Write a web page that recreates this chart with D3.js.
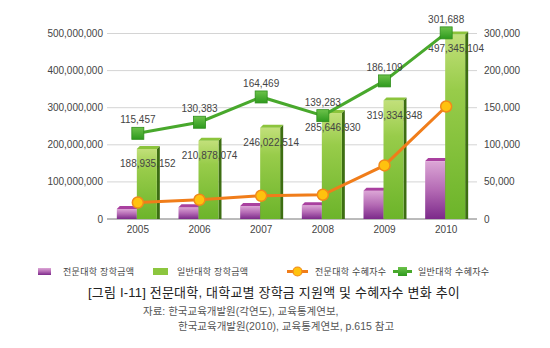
<!DOCTYPE html>
<html>
<head>
<meta charset="utf-8">
<script src="https://cdn.jsdelivr.net/npm/d3@7"></script>
<style>
  body { margin: 0; background: #fff; }
  svg { display: block; font-family: "Liberation Sans", "Noto Sans CJK KR", sans-serif; }
</style>
</head>
<body>
<svg width="550" height="348"></svg>
<script>
const years = ["2005", "2006", "2007", "2008", "2009", "2010"];
const juniorAmount = [27000000, 32000000, 35000000, 37000000, 76000000, 156000000];
const univAmount = [188935152, 210878074, 246022514, 285646930, 319334348, 497345104];
const juniorCount = [22200, 25900, 31300, 32700, 72200, 151600];
const univCount = [115457, 130383, 164469, 139283, 186109, 301688];
const leftTicks = [0, 100000000, 200000000, 300000000, 400000000, 500000000];
const rightTicks = [0, 50000, 100000, 150000, 200000, 300000];
const legendLabels = ["전문대학 장학금액", "일반대학 장학금액", "전문대학 수혜자수", "일반대학 수혜자수"];

const svg = d3.select("svg");
const fmt = d3.format(",");

const x = d3.scaleBand().domain(years).range([107, 477]);
const yL = d3.scaleLinear().domain([0, 500000000]).range([219, 33.5]);
// right axis in the source is piecewise: 0-200,000 evenly, then 200,000-300,000 on the last grid step
const yR = d3.scaleLinear().domain([0, 200000, 300000]).range([219, 70.6, 33.5]);

const defs = svg.append("defs");
function grad(id, stops) {
  const g = defs.append("linearGradient").attr("id", id)
    .attr("x1", 0).attr("y1", 0).attr("x2", 0).attr("y2", 1);
  stops.forEach(s => g.append("stop").attr("offset", s[0]).attr("stop-color", s[1]));
}
grad("gPurple", [[0, "#dca6d6"], [0.5, "#b46ab4"], [1, "#7c2a8a"]]);
grad("gGreen", [[0, "#c2e07a"], [0.3, "#98cc4a"], [1, "#6cb42a"]]);
grad("gSquare", [[0, "#6cc24a"], [1, "#2e9a1e"]]);

// grid
svg.append("g").selectAll("line").data(leftTicks).join("line")
  .attr("x1", 107).attr("x2", 477)
  .attr("y1", d => yL(d)).attr("y2", d => yL(d))
  .attr("stroke", d => d === 0 ? "#777" : "#d4d4d4")
  .attr("stroke-width", 1);

// axes labels
svg.append("g").selectAll("text").data(leftTicks).join("text")
  .attr("x", 103).attr("y", d => yL(d)).attr("dy", "0.35em")
  .attr("text-anchor", "end").attr("font-size", 10).attr("fill", "#444")
  .text(d => fmt(d));
svg.append("g").selectAll("text").data(rightTicks).join("text")
  .attr("x", 484).attr("y", d => yR(d)).attr("dy", "0.35em")
  .attr("font-size", 10).attr("fill", "#444")
  .text(d => fmt(d));
svg.append("g").selectAll("text").data(years).join("text")
  .attr("x", d => x(d) + x.bandwidth() / 2).attr("y", 233)
  .attr("text-anchor", "middle").attr("font-size", 10).attr("fill", "#444")
  .text(d => d);

// 3d bars
const dx = 3, dy = 3;
function bar3d(g, x0, w, top, base, front, topFill, sideFill) {
  g.append("polygon")
    .attr("points", `${x0 + w},${top} ${x0 + w + dx},${top - dy} ${x0 + w + dx},${base} ${x0 + w},${base}`)
    .attr("fill", sideFill);
  g.append("rect").attr("x", x0).attr("y", top).attr("width", w).attr("height", base - top)
    .attr("fill", front);
  g.append("polygon")
    .attr("points", `${x0},${top} ${x0 + dx},${top - dy} ${x0 + w + dx},${top - dy} ${x0 + w},${top}`)
    .attr("fill", topFill);
}
const bars = svg.append("g");
years.forEach((yr, i) => {
  const c = x(yr) + x.bandwidth() / 2;
  bar3d(bars, c - 21, 20, yL(juniorAmount[i]), yL(0), "url(#gPurple)", "#a9409f", "#6a1f74");
  bar3d(bars, c - 1, 20, yL(univAmount[i]), yL(0), "url(#gGreen)", "#8cc43c", "#3d6e12");
});

// green bar value labels
svg.append("g").selectAll("text").data(univAmount).join("text")
  .attr("x", (d, i) => x(years[i]) + x.bandwidth() / 2 + 10)
  .attr("y", d => yL(d) + 18)
  .attr("text-anchor", "middle").attr("font-size", 10).attr("fill", "#444")
  .text(d => fmt(d));

const cx = (d, i) => x(years[i]) + x.bandwidth() / 2;
const line = d3.line().x((d, i) => cx(d, i)).y(d => yR(d));

// orange line
svg.append("path").datum(juniorCount).attr("d", line)
  .attr("fill", "none").attr("stroke", "#f07d1a").attr("stroke-width", 3);
svg.append("g").selectAll("circle").data(juniorCount).join("circle")
  .attr("cx", cx).attr("cy", d => yR(d)).attr("r", 5.5)
  .attr("fill", "#ffc20e").attr("stroke", "#f08a1a").attr("stroke-width", 1.5);

// green line
svg.append("path").datum(univCount).attr("d", line)
  .attr("fill", "none").attr("stroke", "#48a82c").attr("stroke-width", 3);
svg.append("g").selectAll("rect").data(univCount).join("rect")
  .attr("x", (d, i) => cx(d, i) - 6).attr("y", d => yR(d) - 6)
  .attr("width", 12).attr("height", 12).attr("fill", "url(#gSquare)")
  .attr("stroke", "#2f8e1c").attr("stroke-width", 0.8);
svg.append("g").selectAll("text").data(univCount).join("text")
  .attr("x", cx).attr("y", d => yR(d) - 10)
  .attr("text-anchor", "middle").attr("font-size", 10).attr("fill", "#444")
  .text(d => fmt(d));

// legend
const lg = svg.append("g").attr("font-size", 9).attr("fill", "#444").attr("letter-spacing", 0.3);
lg.append("rect").attr("x", 38).attr("y", 268).attr("width", 13).attr("height", 7).attr("fill", "url(#gPurple)");
lg.append("text").attr("x", 63).attr("y", 275).text(legendLabels[0]);
lg.append("rect").attr("x", 153).attr("y", 268).attr("width", 15).attr("height", 7).attr("fill", "#8cc63e");
lg.append("text").attr("x", 177).attr("y", 275).text(legendLabels[1]);
lg.append("line").attr("x1", 287).attr("x2", 308).attr("y1", 271.5).attr("y2", 271.5)
  .attr("stroke", "#f07d1a").attr("stroke-width", 3);
lg.append("circle").attr("cx", 297.5).attr("cy", 271.5).attr("r", 4.5)
  .attr("fill", "#ffc20e").attr("stroke", "#f08a1a").attr("stroke-width", 1.2);
lg.append("text").attr("x", 315).attr("y", 275).text(legendLabels[2]);
lg.append("line").attr("x1", 393).attr("x2", 412).attr("y1", 271.5).attr("y2", 271.5)
  .attr("stroke", "#48a82c").attr("stroke-width", 3);
lg.append("rect").attr("x", 398).attr("y", 267).attr("width", 9).attr("height", 9).attr("fill", "url(#gSquare)");
lg.append("text").attr("x", 418).attr("y", 275).text(legendLabels[3]);

// caption
svg.append("text").attr("x", 274).attr("y", 297).attr("text-anchor", "middle")
  .attr("font-size", 13).attr("fill", "#222").attr("letter-spacing", 0.2)
  .text("[그림 I-11] 전문대학, 대학교별 장학금 지원액 및 수혜자수 변화 추이");
svg.append("text").attr("x", 143).attr("y", 315).attr("font-size", 10.5).attr("fill", "#555")
  .text("자료: 한국교육개발원(각연도), 교육통계연보,");
svg.append("text").attr("x", 178).attr("y", 330).attr("font-size", 10.5).attr("fill", "#555")
  .text("한국교육개발원(2010), 교육통계연보, p.615 참고");
</script>
</body>
</html>
